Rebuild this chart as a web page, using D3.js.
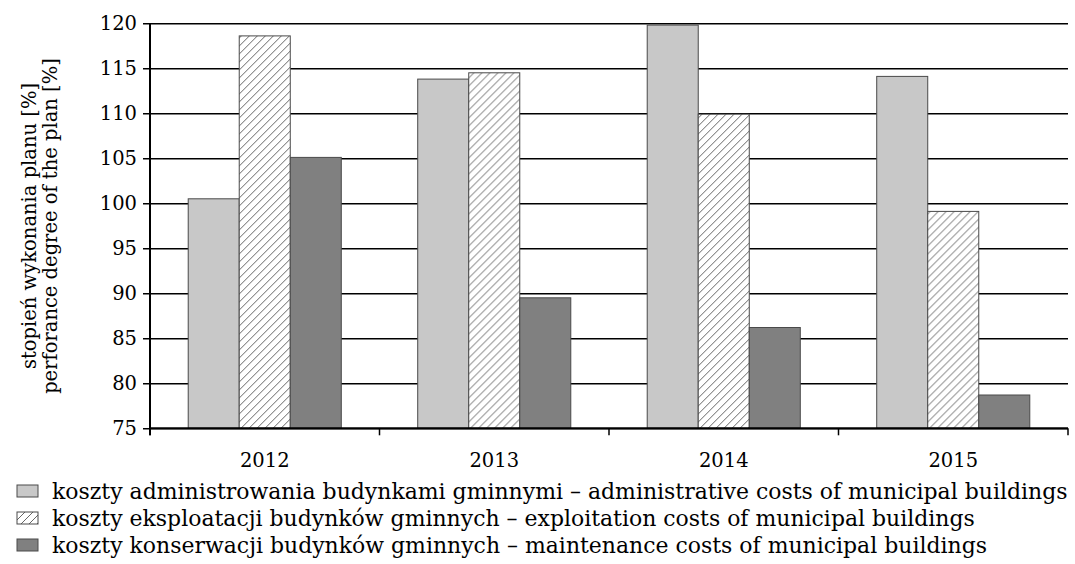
<!DOCTYPE html>
<html lang="pl">
<head>
    <meta charset="UTF-8">
    <title>stopień wykonania planu</title>
    <script src="https://cdnjs.cloudflare.com/ajax/libs/d3/7.8.5/d3.min.js"></script>
    <style>
        body { margin: 0; background: #fff; }
        text { font-family: "DejaVu Serif", serif; fill: #000; }
    </style>
</head>
<body>
    <div id="wrapper"></div>
    <script>
        // dane
        const years = ['2012', '2013', '2014', '2015']
        const adminCosts = [100.5, 113.8, 119.8, 114.1]
        const exploitCosts = [118.6, 114.5, 109.9, 99.1]
        const maintCosts = [105.1, 89.5, 86.2, 78.7]
        const yTicks = [75, 80, 85, 90, 95, 100, 105, 110, 115, 120]
        const seriesNames = [
            'koszty administrowania budynkami gminnymi – administrative costs of municipal buildings',
            'koszty eksploatacji budynków gminnych – exploitation costs of municipal buildings',
            'koszty konserwacji budynków gminnych – maintenance costs of municipal buildings'
        ]
        const yLabelLines = ['stopień wykonania planu [%]', 'perforance degree of the plan [%]']

        const series = [adminCosts, exploitCosts, maintCosts]
        const fills = ['#c8c8c8', 'url(#hatch)', '#808080']

        const dimensions = {
            width: 1075,
            height: 564,
            margin: { top: 23.3, right: 7, bottom: 135.7, left: 150 }
        }
        dimensions.boundedWidth = dimensions.width - dimensions.margin.left - dimensions.margin.right
        dimensions.boundedHeight = dimensions.height - dimensions.margin.top - dimensions.margin.bottom

        const svg = d3.select('#wrapper')
            .append('svg')
                .attr('width', dimensions.width)
                .attr('height', dimensions.height)

        // wzór kreskowania
        const pattern = svg.append('defs').append('pattern')
            .attr('id', 'hatch')
            .attr('patternUnits', 'userSpaceOnUse')
            .attr('width', 8)
            .attr('height', 8)
        pattern.append('rect').attr('width', 8).attr('height', 8).attr('fill', '#fff')
        pattern.append('path')
            .attr('d', 'M-2,2 L2,-2 M0,8 L8,0 M6,10 L10,6')
            .attr('stroke', '#555')
            .attr('stroke-width', 0.9)

        const bounds = svg.append('g')
            .attr('transform', `translate(${dimensions.margin.left},${dimensions.margin.top})`)

        // skale
        const xScale = d3.scaleBand()
            .domain(years)
            .range([0, dimensions.boundedWidth])
            .paddingInner(0)
            .paddingOuter(0)

        const groupWidth = xScale.bandwidth() * 0.667
        const subScale = d3.scaleBand()
            .domain(d3.range(series.length))
            .range([(xScale.bandwidth() - groupWidth) / 2, (xScale.bandwidth() + groupWidth) / 2])

        const yScale = d3.scaleLinear()
            .domain([75, 120])
            .range([dimensions.boundedHeight, 0])

        // siatka + oś Y
        const yAxis = bounds.append('g')
            .call(d3.axisLeft(yScale)
                .tickValues(yTicks)
                .tickSize(7)
                .tickPadding(6))
        yAxis.select('.domain').remove()
        yAxis.selectAll('.tick line')
            .attr('stroke', '#000')
            .attr('stroke-width', 1.5)
            .attr('x1', dimensions.boundedWidth)
            .attr('x2', -7)
        yAxis.selectAll('.tick text')
            .style('font-size', '19.5px')
            .attr('font-family', null)

        // słupki
        years.forEach((year, yi) => {
            bounds.append('g')
                .attr('transform', `translate(${xScale(year)},0)`)
                .selectAll('rect')
                .data(series.map((s, si) => ({ si, value: s[yi] })))
                .join('rect')
                    .attr('x', d => subScale(d.si))
                    .attr('width', subScale.bandwidth())
                    .attr('y', d => yScale(d.value))
                    .attr('height', d => yScale(75) - yScale(d.value))
                    .attr('fill', d => fills[d.si])
                    .attr('stroke', '#4a4a4a')
                    .attr('stroke-width', 1)
        })

        // oś X
        const xAxis = bounds.append('g')
            .attr('transform', `translate(0,${dimensions.boundedHeight})`)
            .call(d3.axisBottom(xScale).tickSize(0).tickPadding(25))
        xAxis.select('.domain').remove()
        xAxis.selectAll('.tick text')
            .style('font-size', '19.5px')
            .attr('font-family', null)

        xAxis.append('line')
            .attr('x1', 0).attr('x2', dimensions.boundedWidth)
            .attr('stroke', '#000').attr('stroke-width', 2)
        xAxis.selectAll('.cat-tick')
            .data(d3.range(years.length + 1))
            .join('line')
                .attr('class', 'cat-tick')
                .attr('x1', i => i * xScale.step())
                .attr('x2', i => i * xScale.step())
                .attr('y1', 0).attr('y2', 7)
                .attr('stroke', '#000').attr('stroke-width', 1.5)

        bounds.append('line')
            .attr('x1', 0).attr('x2', 0)
            .attr('y1', 0).attr('y2', dimensions.boundedHeight + 7)
            .attr('stroke', '#000').attr('stroke-width', 2)

        // tytuł osi Y
        const yLabel = svg.append('text')
            .attr('transform', `translate(29,226) rotate(-90)`)
            .attr('text-anchor', 'middle')
            .style('font-size', '19.5px')
        yLabel.selectAll('tspan')
            .data(yLabelLines)
            .join('tspan')
                .attr('x', 0)
                .attr('dy', (d, i) => i === 0 ? '0.35em' : '1.08em')
                .text(d => d)

        // legenda
        const legend = svg.append('g')
        const legendRows = legend.selectAll('g')
            .data(seriesNames)
            .join('g')
                .attr('transform', (d, i) => `translate(17,${485 + i * 27})`)
        legendRows.append('rect')
            .attr('width', 21)
            .attr('height', 12)
            .attr('fill', (d, i) => fills[i])
            .attr('stroke', '#4a4a4a')
            .attr('stroke-width', 1)
        const legendTexts = legendRows.append('text')
            .attr('x', 35)
            .attr('y', 6)
            .attr('dy', '0.35em')
            .style('font-size', '19px')
            .text(d => d)

        // dopasowanie szerokości legendy do oryginału
        const firstLen = legendTexts.node().getComputedTextLength()
        const targetLen = 1068 - 52
        legendTexts.style('font-size', `${19 * targetLen / firstLen}px`)
    </script>
</body>
</html>
